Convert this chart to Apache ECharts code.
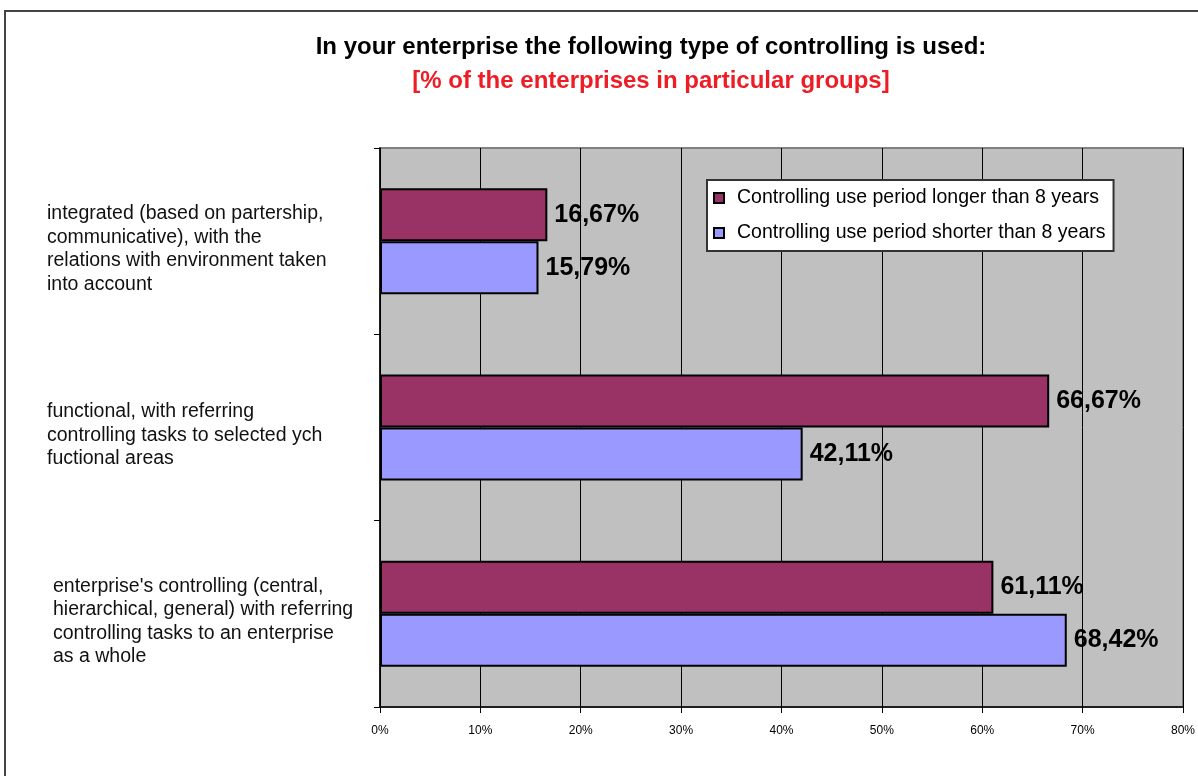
<!DOCTYPE html>
<html><head><meta charset="utf-8">
<script src="https://cdn.jsdelivr.net/npm/echarts@6/dist/echarts.min.js"></script>
<style>html,body{margin:0;padding:0;background:#fff}#c{width:1198px;height:776px}</style>
</head><body><div id="c"></div>
<script>
// Data (bottom-to-top category order)
const categories = [
  "enterprise's controlling (central,\nhierarchical, general) with referring\ncontrolling tasks to an enterprise\nas a whole",
  "functional, with referring\ncontrolling tasks to selected ych\nfuctional areas",
  "integrated (based on partership,\ncommunicative), with the\nrelations with environment taken\ninto account"
];
const seriesNames = ["Controlling use period longer than 8 years", "Controlling use period shorter than 8 years"];
const longerValues = [61.11, 66.67, 16.67];
const shorterValues = [68.42, 42.11, 15.79];
const titleText = "In your enterprise the following type of controlling is used:";
const subtitleText = "[% of the enterprises in particular groups]";

const FONT = 'Arial, "Liberation Sans", sans-serif';
const chart = echarts.init(document.getElementById('c'));
const labelCfg = {
  show: true, position: 'right', distance: 7,
  fontFamily: FONT, fontWeight: 'bold', fontSize: 25, color: '#000',
  formatter: p => p.value.toFixed(2).replace('.', ',') + '%'
};
chart.setOption({
  animation: false,
  backgroundColor: '#fff',
  graphic: [
    { type: 'rect', shape: { x: 5, y: 11, width: 1300, height: 900 }, style: { fill: 'none', stroke: '#444', lineWidth: 2 }, z: -1 },
    { type: 'text', x: 651, y: 47, style: { text: titleText, textAlign: 'center', textVerticalAlign: 'middle', font: 'bold 24px ' + FONT, fill: '#000' } },
    { type: 'text', x: 651, y: 81, style: { text: subtitleText, textAlign: 'center', textVerticalAlign: 'middle', font: 'bold 24px ' + FONT, fill: '#ee1c25' } }
  ],
  legend: {
    orient: 'vertical', left: 707, top: 180,
    data: seriesNames,
    backgroundColor: '#fff', borderColor: '#333', borderWidth: 2,
    padding: [8, 8, 8, 6], itemGap: 15,
    itemWidth: 10, itemHeight: 10, icon: 'rect',
    textStyle: { fontFamily: FONT, fontSize: 19.5, lineHeight: 20, color: '#000', padding: [0, 0, 0, 8] }
  },
  grid: { left: 380, top: 148, width: 803, bottom: 69, show: true, backgroundColor: '#C0C0C0', borderColor: '#808080', borderWidth: 2, containLabel: false },
  xAxis: {
    type: 'value', min: 0, max: 80, interval: 10,
    axisLine: { show: true, lineStyle: { color: '#000', width: 1.5 } },
    axisTick: { show: true, length: 6, lineStyle: { color: '#000' } },
    splitLine: { show: true, lineStyle: { color: '#000', width: 1 } },
    axisLabel: { formatter: '{value}%', margin: 18, fontFamily: FONT, fontSize: 12, color: '#000' }
  },
  yAxis: {
    type: 'category', data: categories,
    axisLine: { show: true, lineStyle: { color: '#000', width: 1.5 } },
    axisTick: { show: true, length: 6, lineStyle: { color: '#000' } },
    axisLabel: {
      align: 'left', margin: 333, fontFamily: FONT, fontSize: 19.5, lineHeight: 23.5, color: '#111',
      formatter: (v, idx) => {
        const tag = idx === 0 ? 'b' : 'a';
        return '{g| }\n' + v.split('\n').map(l => '{' + tag + '|' + l + '}').join('\n');
      },
      rich: {
        g: { fontSize: 1, lineHeight: 16, height: 16 },
        a: { fontFamily: FONT, fontSize: 19.5, lineHeight: 23.5, color: '#111' },
        b: { fontFamily: FONT, fontSize: 19.5, lineHeight: 23.5, color: '#111', padding: [0, 0, 0, 6] }
      }
    }
  },
  series: [
    { name: seriesNames[0], type: 'bar', data: longerValues, barWidth: 53, barGap: '0%',
      itemStyle: { color: '#993366', borderColor: '#000', borderWidth: 2 }, label: labelCfg },
    { name: seriesNames[1], type: 'bar', data: shorterValues, barWidth: 53, barGap: '0%',
      itemStyle: { color: '#9999FF', borderColor: '#000', borderWidth: 2 }, label: labelCfg }
  ]
});
</script></body></html>
